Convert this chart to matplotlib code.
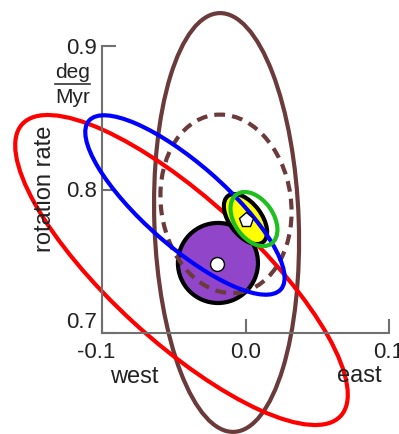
import numpy as np
import matplotlib.pyplot as plt
from matplotlib.patches import Ellipse, Circle
from matplotlib.lines import Line2D
from matplotlib.transforms import ScaledTranslation

plt.rcParams['font.family'] = ['Liberation Sans', 'DejaVu Sans']

# confidence ellipses: centre, full axis lengths, tilt in degrees
ell_x = [-0.0132, -0.0136, -0.0446, -0.0422, 0.0000, 0.0059]
ell_y = [0.777, 0.790, 0.7439, 0.7892, 0.7794, 0.7794]
ell_w = [0.1006, 0.0906, 0.301, 0.178, 0.0404, 0.042]
ell_h = [0.292, 0.125, 0.099, 0.057, 0.0223, 0.027]
ell_ang = [2, 8, -42.5, -41.3, -53, -55]

# filled circle (purple) and the two pole estimates
circ_x, circ_y, circ_r = -0.0192, 0.7488, 0.0279
dot_x, dot_y = -0.0199, 0.7481
pent_x, pent_y = 0.0003, 0.7787

xticks = [-0.1, 0.0, 0.1]
xticklabels = ['-0.1', '0.0', '0.1']
yticks = [0.7, 0.8, 0.9]
yticklabels = ['0.7', '0.8', '0.9']

brown = '#6b3b3b'
styles = [
    dict(fc='none', ec=brown, lw=3, zorder=2),
    dict(fc='none', ec=brown, lw=3, ls=(0, (2.6, 1.7)), zorder=4),
    dict(fc='none', ec='#ff0000', lw=3, zorder=2),
    dict(fc='none', ec='#0000ff', lw=3, zorder=4),
    dict(fc='#ffff00', ec='black', lw=3, zorder=3.5),
    dict(fc='none', ec='#1fbf1f', lw=3, zorder=5),
]

fig = plt.figure(figsize=(3.99, 4.34), dpi=100)
ax = fig.add_axes([102 / 399, 101 / 434, 287 / 399, 287 / 434])

for i in range(len(ell_x)):
    e = Ellipse((ell_x[i], ell_y[i]), ell_w[i], ell_h[i], angle=ell_ang[i],
                clip_on=False, **styles[i])
    ax.add_patch(e)

ax.add_patch(Circle((circ_x, circ_y), circ_r, fc='#9146c9', ec='black', lw=3,
                    zorder=3, clip_on=False))
ax.plot(dot_x, dot_y, 'o', ms=10, mfc='white', mec='black', mew=1, zorder=6, clip_on=False)
ax.plot(pent_x, pent_y, 'p', ms=11, mfc='white', mec='black', mew=1, zorder=6, clip_on=False)

ax.set_xlim(-0.1, 0.1)
ax.set_ylim(0.7, 0.9)
ax.set_aspect('equal')
ax.patch.set_visible(False)

for s in ['top', 'right']:
    ax.spines[s].set_visible(False)
for s in ['left', 'bottom']:
    ax.spines[s].set_color('#707070')
    ax.spines[s].set_linewidth(1.5)

ax.set_xticks(xticks)
ax.set_xticklabels(xticklabels)
ax.set_yticks(yticks)
ax.set_yticklabels(yticklabels)
ax.tick_params(direction='in', length=10, width=1.5, color='#707070',
               labelsize=16, labelcolor='#222222')
ax.tick_params(axis='x', pad=6.5)
ax.tick_params(axis='y', pad=3.5)

# lowest y label sits on the axis, first x label is nudged left
ax.get_yticklabels()[0].set_va('bottom')
lab = ax.get_xticklabels()[0]
lab.set_transform(lab.get_transform() + ScaledTranslation(-6 / 100, 0, fig.dpi_scale_trans))

fig.text(45 / 399, 1 - 189 / 434, 'rotation rate', rotation=90, ha='center', va='center',
         fontsize=17, color='#222222')
fig.text(72.5 / 399, 1 - 72.5 / 434, 'deg', ha='center', va='center', fontsize=15, color='#222222')
fig.text(72.5 / 399, 1 - 97.5 / 434, 'Myr', ha='center', va='center', fontsize=15, color='#222222')
fig.add_artist(Line2D([55 / 399, 90 / 399], [1 - 84 / 434] * 2, color='#333333', lw=1.2))

fig.text(134 / 399, 1 - 377 / 434, 'west', ha='center', va='center', fontsize=17, color='#222222')
fig.text(359 / 399, 1 - 376 / 434, 'east', ha='center', va='center', fontsize=17, color='#222222')

fig.savefig('out.png', dpi=100)
